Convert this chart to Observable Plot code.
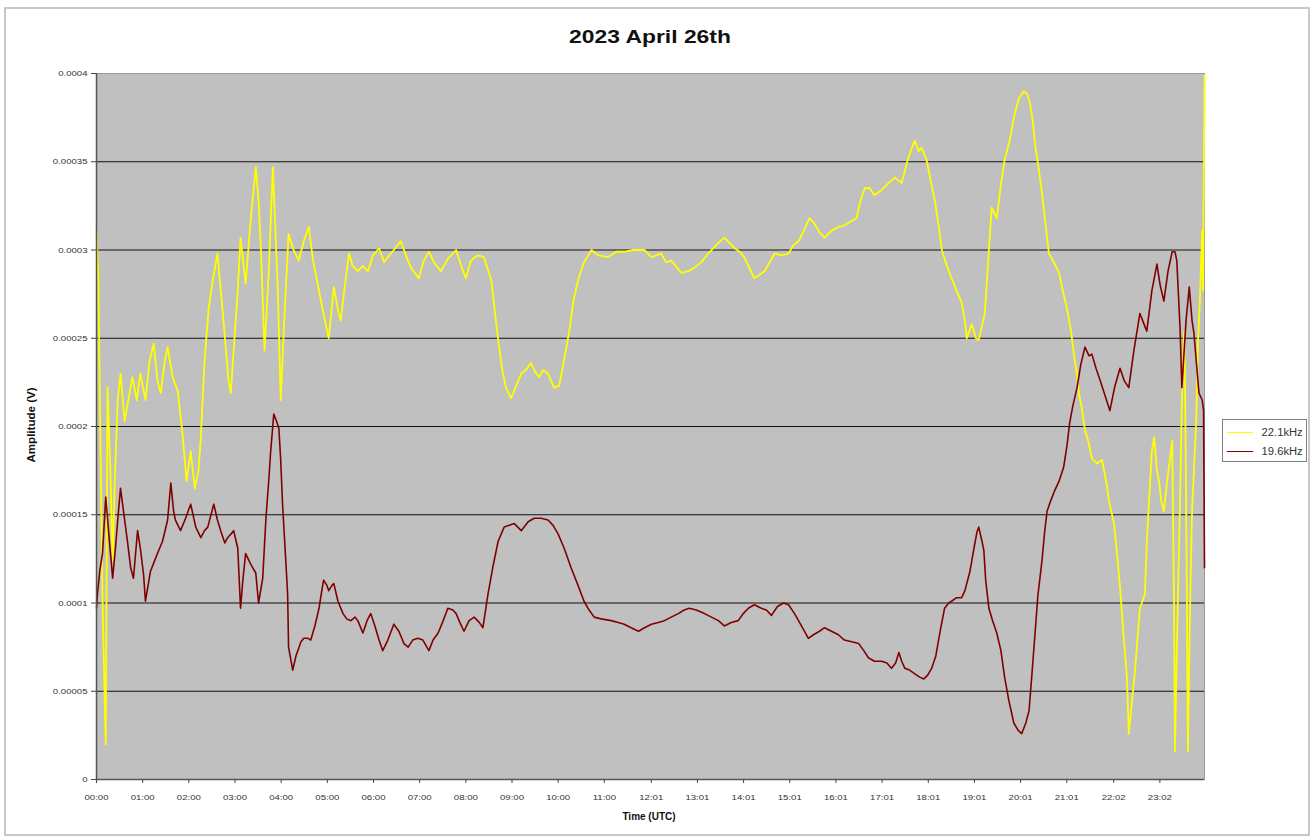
<!DOCTYPE html>
<html><head><meta charset="utf-8">
<script src="https://cdn.jsdelivr.net/npm/d3@7"></script>
<script src="https://cdn.jsdelivr.net/npm/@observablehq/plot@0.6"></script>
<style>
body{margin:0;background:#fff;}
#wrap{position:relative;width:1314px;height:840px;overflow:hidden;font-family:"Liberation Sans",Arial,sans-serif;color:#000;}
#chart{position:absolute;left:0;top:0;}
#border{position:absolute;left:4px;top:7px;width:1302px;height:825px;border:2px solid #c8c8c8;pointer-events:none;}
#title{position:absolute;left:650px;top:27px;font-weight:bold;font-size:18px;white-space:nowrap;transform:translateX(-50%) scaleX(1.27);color:#111;}
#ylab{position:absolute;left:31px;top:425px;font-weight:bold;font-size:10.5px;transform:translate(-50%,-50%) rotate(-90deg) scaleX(1.1);white-space:nowrap;color:#111;}
#xlab{position:absolute;left:649px;top:811px;font-weight:bold;font-size:10px;transform:translateX(-50%);white-space:nowrap;color:#111;}
#legend{position:absolute;left:1222px;top:419px;width:85px;height:43px;border:1px solid #808080;box-sizing:border-box;background:#fff;}
.lg{position:absolute;left:4px;right:3px;height:14px;display:flex;align-items:center;font-size:10px;color:#333;}
.lg .sw{width:26px;height:0;margin-right:8px;}
.lg span{margin-left:auto;display:inline-block;transform-origin:right center;transform:scaleX(1.12);}
</style></head>
<body><div id="wrap">
<div id="chart"></div>
<div id="border"></div>
<div id="title">2023 April 26th</div>
<div id="ylab">Amplitude (V)</div>
<div id="xlab">Time (UTC)</div>
<div id="legend"></div>
</div>
<script>
// Series names and colours
const seriesNames = ["22.1kHz", "19.6kHz"];
const seriesColors = ["#ffff00", "#800000"];

// X tick labels (category labels shown on the time axis)
const xTickLabels = ["00:00","01:00","02:00","03:00","04:00","05:00","06:00","07:00","08:00","09:00","10:00","11:00","12:01","13:01","14:01","15:01","16:01","17:01","18:01","19:01","20:01","21:01","22:02","23:02"];
// Y ticks and labels
const yTicks = [0, 0.00005, 0.0001, 0.00015, 0.0002, 0.00025, 0.0003, 0.00035, 0.0004];
const yTickLabels = ["0","0.00005","0.0001","0.00015","0.0002","0.00025","0.0003","0.00035","0.0004"];

// 22.1kHz: time (hours UTC) and amplitude (V)
const yellowHours = [0,0.04,0.13,0.20,0.24,0.30,0.35,0.39,0.46,0.52,0.61,0.69,0.78,0.87,0.95,1.06,1.15,1.24,1.32,1.39,1.48,1.54,1.65,1.76,1.87,1.95,2.04,2.13,2.21,2.26,2.34,2.43,2.52,2.62,2.75,2.86,2.91,2.97,3.06,3.12,3.23,3.34,3.45,3.51,3.56,3.64,3.73,3.82,3.93,3.99,4.06,4.16,4.27,4.38,4.49,4.60,4.69,4.79,4.90,5.03,5.14,5.23,5.29,5.38,5.47,5.55,5.66,5.77,5.88,5.99,6.12,6.23,6.31,6.44,6.59,6.70,6.81,6.98,7.09,7.20,7.31,7.46,7.61,7.79,7.90,8.00,8.11,8.26,8.39,8.55,8.70,8.79,8.87,8.98,9.09,9.20,9.30,9.41,9.50,9.59,9.67,9.78,9.91,10.02,10.11,10.24,10.33,10.43,10.56,10.72,10.87,11.08,11.26,11.43,11.63,11.87,12.02,12.23,12.34,12.45,12.67,12.82,12.95,13.10,13.25,13.36,13.47,13.60,13.71,13.82,13.93,14.03,14.14,14.25,14.36,14.47,14.58,14.69,14.84,14.99,15.10,15.21,15.34,15.44,15.55,15.66,15.77,15.92,16.07,16.20,16.33,16.46,16.55,16.64,16.75,16.85,17.01,17.16,17.29,17.44,17.57,17.72,17.81,17.87,17.98,18.07,18.16,18.24,18.31,18.42,18.52,18.63,18.74,18.81,18.85,18.96,19.05,19.11,19.18,19.24,19.33,19.39,19.50,19.59,19.67,19.78,19.87,19.98,20.09,20.17,20.22,20.28,20.33,20.41,20.48,20.56,20.63,20.74,20.85,20.93,21.02,21.11,21.17,21.24,21.28,21.35,21.41,21.48,21.56,21.67,21.78,21.87,21.93,22.04,22.11,22.17,22.24,22.32,22.36,22.43,22.49,22.56,22.60,22.71,22.75,22.80,22.86,22.91,22.97,23.02,23.06,23.12,23.19,23.23,23.30,23.34,23.36,23.40,23.47,23.51,23.56,23.58,23.62,23.64,23.69,23.73,23.82,23.86,23.90,23.95,23.97,24.0];
const yellowValues = [3.11e-4,2.83e-4,1.01e-4,0.20e-4,2.22e-4,1.75e-4,1.24e-4,1.65e-4,2.15e-4,2.30e-4,2.03e-4,2.15e-4,2.28e-4,2.15e-4,2.30e-4,2.15e-4,2.37e-4,2.47e-4,2.26e-4,2.19e-4,2.37e-4,2.45e-4,2.28e-4,2.20e-4,1.94e-4,1.69e-4,1.86e-4,1.65e-4,1.75e-4,1.94e-4,2.37e-4,2.67e-4,2.83e-4,2.98e-4,2.60e-4,2.26e-4,2.19e-4,2.43e-4,2.77e-4,3.07e-4,2.81e-4,3.17e-4,3.47e-4,3.28e-4,3.01e-4,2.43e-4,2.87e-4,3.47e-4,2.75e-4,2.15e-4,2.56e-4,3.09e-4,3.00e-4,2.94e-4,3.05e-4,3.13e-4,2.94e-4,2.81e-4,2.66e-4,2.50e-4,2.79e-4,2.66e-4,2.60e-4,2.80e-4,2.98e-4,2.91e-4,2.88e-4,2.91e-4,2.88e-4,2.97e-4,3.01e-4,2.93e-4,2.96e-4,3.00e-4,3.05e-4,2.97e-4,2.90e-4,2.84e-4,2.94e-4,2.99e-4,2.93e-4,2.88e-4,2.95e-4,3.00e-4,2.91e-4,2.84e-4,2.94e-4,2.97e-4,2.96e-4,2.83e-4,2.49e-4,2.32e-4,2.22e-4,2.16e-4,2.23e-4,2.30e-4,2.32e-4,2.36e-4,2.31e-4,2.28e-4,2.32e-4,2.30e-4,2.22e-4,2.23e-4,2.35e-4,2.54e-4,2.71e-4,2.83e-4,2.93e-4,3.00e-4,2.97e-4,2.96e-4,2.99e-4,2.99e-4,3.00e-4,3.00e-4,2.96e-4,2.98e-4,2.93e-4,2.94e-4,2.87e-4,2.88e-4,2.90e-4,2.93e-4,2.98e-4,3.01e-4,3.04e-4,3.07e-4,3.04e-4,3.01e-4,2.99e-4,2.96e-4,2.90e-4,2.84e-4,2.86e-4,2.88e-4,2.93e-4,2.98e-4,2.97e-4,2.98e-4,3.03e-4,3.05e-4,3.12e-4,3.18e-4,3.15e-4,3.10e-4,3.07e-4,3.11e-4,3.13e-4,3.14e-4,3.16e-4,3.18e-4,3.28e-4,3.35e-4,3.35e-4,3.31e-4,3.34e-4,3.38e-4,3.41e-4,3.38e-4,3.51e-4,3.62e-4,3.56e-4,3.58e-4,3.51e-4,3.39e-4,3.28e-4,3.14e-4,3.00e-4,2.91e-4,2.84e-4,2.77e-4,2.70e-4,2.60e-4,2.50e-4,2.58e-4,2.50e-4,2.49e-4,2.57e-4,2.64e-4,3.00e-4,3.24e-4,3.18e-4,3.37e-4,3.51e-4,3.62e-4,3.75e-4,3.86e-4,3.90e-4,3.88e-4,3.83e-4,3.73e-4,3.60e-4,3.46e-4,3.32e-4,3.14e-4,2.98e-4,2.93e-4,2.87e-4,2.77e-4,2.67e-4,2.54e-4,2.41e-4,2.29e-4,2.19e-4,2.09e-4,1.98e-4,1.92e-4,1.82e-4,1.79e-4,1.81e-4,1.69e-4,1.58e-4,1.45e-4,1.27e-4,1.09e-4,0.84e-4,0.58e-4,0.26e-4,0.45e-4,0.60e-4,0.84e-4,0.97e-4,1.05e-4,1.35e-4,1.58e-4,1.86e-4,1.94e-4,1.75e-4,1.68e-4,1.58e-4,1.52e-4,1.69e-4,1.77e-4,1.92e-4,1.01e-4,0.16e-4,0.73e-4,1.58e-4,2.15e-4,2.54e-4,2.20e-4,1.01e-4,0.16e-4,1.01e-4,1.52e-4,2.03e-4,2.49e-4,2.71e-4,3.11e-4,2.77e-4,3.99e-4];

// 19.6kHz: time (hours UTC) and amplitude (V)
const redHours = [0,0.02,0.07,0.13,0.20,0.26,0.35,0.41,0.46,0.52,0.59,0.67,0.74,0.80,0.89,0.95,1.02,1.06,1.17,1.26,1.32,1.43,1.54,1.61,1.67,1.71,1.82,1.93,2.04,2.15,2.26,2.34,2.41,2.54,2.62,2.69,2.78,2.84,2.91,2.97,3.06,3.12,3.17,3.23,3.34,3.45,3.51,3.60,3.67,3.73,3.77,3.84,3.90,3.95,3.99,4.03,4.10,4.14,4.16,4.25,4.32,4.36,4.43,4.49,4.58,4.64,4.73,4.82,4.88,4.92,4.99,5.03,5.10,5.14,5.23,5.34,5.42,5.51,5.60,5.66,5.77,5.86,5.94,6.03,6.12,6.20,6.31,6.44,6.55,6.66,6.75,6.85,6.96,7.07,7.20,7.29,7.40,7.51,7.61,7.72,7.79,7.87,7.96,8.07,8.18,8.29,8.37,8.48,8.59,8.70,8.83,8.94,9.05,9.20,9.35,9.48,9.63,9.78,9.89,10.00,10.13,10.28,10.43,10.56,10.67,10.78,10.93,11.15,11.30,11.43,11.58,11.74,11.87,12.02,12.17,12.30,12.45,12.60,12.73,12.84,12.99,13.17,13.32,13.47,13.60,13.75,13.90,14.01,14.12,14.25,14.40,14.51,14.62,14.75,14.88,14.99,15.12,15.27,15.42,15.53,15.66,15.77,15.92,16.07,16.20,16.36,16.51,16.62,16.72,16.85,17.01,17.12,17.22,17.31,17.38,17.44,17.51,17.61,17.72,17.83,17.92,18.00,18.09,18.18,18.24,18.31,18.37,18.46,18.52,18.63,18.74,18.81,18.85,18.92,18.96,19.02,19.07,19.11,19.18,19.22,19.26,19.33,19.41,19.50,19.59,19.67,19.76,19.87,19.96,20.04,20.13,20.20,20.26,20.33,20.39,20.48,20.54,20.59,20.67,20.76,20.85,20.95,21.02,21.08,21.15,21.24,21.32,21.41,21.50,21.56,21.65,21.74,21.84,21.95,22.06,22.17,22.26,22.36,22.47,22.60,22.69,22.75,22.86,22.97,23.04,23.12,23.21,23.30,23.36,23.40,23.47,23.51,23.60,23.67,23.73,23.77,23.88,23.95,23.98,24.0];
const redValues = [0.97e-4,1.05e-4,1.18e-4,1.28e-4,1.60e-4,1.41e-4,1.14e-4,1.31e-4,1.47e-4,1.65e-4,1.51e-4,1.35e-4,1.20e-4,1.14e-4,1.41e-4,1.31e-4,1.16e-4,1.01e-4,1.18e-4,1.24e-4,1.28e-4,1.35e-4,1.47e-4,1.68e-4,1.52e-4,1.47e-4,1.41e-4,1.48e-4,1.56e-4,1.43e-4,1.37e-4,1.41e-4,1.43e-4,1.56e-4,1.47e-4,1.41e-4,1.34e-4,1.37e-4,1.39e-4,1.41e-4,1.31e-4,0.97e-4,1.13e-4,1.28e-4,1.22e-4,1.17e-4,1.00e-4,1.14e-4,1.48e-4,1.69e-4,1.85e-4,2.07e-4,2.03e-4,1.99e-4,1.81e-4,1.56e-4,1.24e-4,1.05e-4,0.75e-4,0.62e-4,0.70e-4,0.73e-4,0.78e-4,0.80e-4,0.80e-4,0.79e-4,0.87e-4,0.97e-4,1.07e-4,1.13e-4,1.10e-4,1.07e-4,1.10e-4,1.11e-4,1.01e-4,0.94e-4,0.91e-4,0.90e-4,0.92e-4,0.90e-4,0.83e-4,0.90e-4,0.94e-4,0.87e-4,0.79e-4,0.73e-4,0.79e-4,0.88e-4,0.84e-4,0.77e-4,0.75e-4,0.79e-4,0.80e-4,0.79e-4,0.73e-4,0.79e-4,0.83e-4,0.90e-4,0.97e-4,0.96e-4,0.94e-4,0.89e-4,0.84e-4,0.90e-4,0.92e-4,0.89e-4,0.86e-4,1.05e-4,1.21e-4,1.35e-4,1.43e-4,1.44e-4,1.45e-4,1.41e-4,1.46e-4,1.48e-4,1.48e-4,1.47e-4,1.44e-4,1.39e-4,1.31e-4,1.20e-4,1.10e-4,1.01e-4,0.96e-4,0.92e-4,0.91e-4,0.90e-4,0.89e-4,0.88e-4,0.86e-4,0.84e-4,0.86e-4,0.88e-4,0.89e-4,0.90e-4,0.92e-4,0.94e-4,0.96e-4,0.97e-4,0.96e-4,0.94e-4,0.92e-4,0.90e-4,0.87e-4,0.89e-4,0.90e-4,0.94e-4,0.97e-4,0.99e-4,0.97e-4,0.96e-4,0.93e-4,0.98e-4,1.00e-4,0.99e-4,0.94e-4,0.87e-4,0.80e-4,0.82e-4,0.84e-4,0.86e-4,0.84e-4,0.82e-4,0.79e-4,0.78e-4,0.77e-4,0.73e-4,0.69e-4,0.67e-4,0.67e-4,0.66e-4,0.63e-4,0.66e-4,0.72e-4,0.67e-4,0.63e-4,0.62e-4,0.60e-4,0.58e-4,0.57e-4,0.59e-4,0.63e-4,0.70e-4,0.79e-4,0.89e-4,0.97e-4,1.00e-4,1.01e-4,1.03e-4,1.03e-4,1.07e-4,1.11e-4,1.18e-4,1.24e-4,1.33e-4,1.40e-4,1.43e-4,1.35e-4,1.30e-4,1.13e-4,0.97e-4,0.90e-4,0.83e-4,0.73e-4,0.58e-4,0.45e-4,0.32e-4,0.28e-4,0.26e-4,0.32e-4,0.39e-4,0.59e-4,0.83e-4,1.04e-4,1.24e-4,1.41e-4,1.52e-4,1.58e-4,1.64e-4,1.69e-4,1.77e-4,1.89e-4,2.02e-4,2.12e-4,2.22e-4,2.35e-4,2.45e-4,2.40e-4,2.41e-4,2.33e-4,2.26e-4,2.18e-4,2.09e-4,2.23e-4,2.33e-4,2.26e-4,2.22e-4,2.43e-4,2.64e-4,2.58e-4,2.54e-4,2.77e-4,2.92e-4,2.80e-4,2.71e-4,2.88e-4,2.99e-4,2.99e-4,2.94e-4,2.56e-4,2.22e-4,2.60e-4,2.79e-4,2.60e-4,2.53e-4,2.19e-4,2.15e-4,2.09e-4,1.20e-4];

const parseHM = s => { const [h, m] = s.split(":").map(Number); return h + m / 60; };
const xTicks = xTickLabels.map(parseHM);
const yellow = yellowHours.map((h, i) => ({h, v: yellowValues[i]}));
const red = redHours.map((h, i) => ({h, v: redValues[i]}));

const chart = Plot.plot({
  width: 1314, height: 840,
  marginLeft: 96, marginRight: 110, marginTop: 73, marginBottom: 61,
  style: {fontFamily: "'Liberation Sans', Arial, sans-serif", fontSize: "8px", color: "#000", background: "transparent", overflow: "visible"},
  x: {domain: [0, 24]},
  y: {domain: [0, 0.0004]},
  marks: [
    Plot.frame({fill: "#c0c0c0", stroke: "#9a9a9a"}),
    Plot.ruleY(yTicks.filter(d => d > 0 && d < 0.0004), {stroke: "#111", strokeWidth: 1.2}),
    Plot.line(yellow, {x: "h", y: "v", stroke: seriesColors[0], strokeWidth: 1.8}),
    Plot.line(red, {x: "h", y: "v", stroke: seriesColors[1], strokeWidth: 1.6}),
    Plot.ruleX([0], {stroke: "#555", strokeWidth: 1.5}),
    Plot.ruleY([0], {stroke: "#555", strokeWidth: 1.5}),
    Plot.axisY(yTicks, {tickFormat: d => yTickLabels[yTicks.indexOf(d)], tickSize: 5, tickPadding: 4, label: null, stroke: "#444", fill: "#333"}),
    Plot.axisX(xTicks, {tickFormat: d => xTickLabels[xTicks.indexOf(d)], tickSize: 4, tickPadding: 11, label: null, stroke: "#444", fill: "#333"})
  ]
});
document.getElementById("chart").appendChild(chart);

// widen tick labels horizontally, as in the reference image
chart.querySelectorAll('g[aria-label$="tick label"] text').forEach(t => {
  const tr = t.getAttribute("transform") || "";
  t.setAttribute("transform", tr + " scale(1.2,1)");
  const x = t.getAttribute("x");
  if (x != null) t.setAttribute("x", (+x) / 1.2);
});

// legend
const lg = document.getElementById("legend");
seriesNames.forEach((name, i) => {
  const row = document.createElement("div");
  row.className = "lg";
  row.style.top = (5 + i * 19) + "px";
  row.innerHTML = `<div class="sw" style="border-top:1.5px solid ${seriesColors[i]}"></div><span>${name}</span>`;
  lg.appendChild(row);
});
</script>
</body></html>
